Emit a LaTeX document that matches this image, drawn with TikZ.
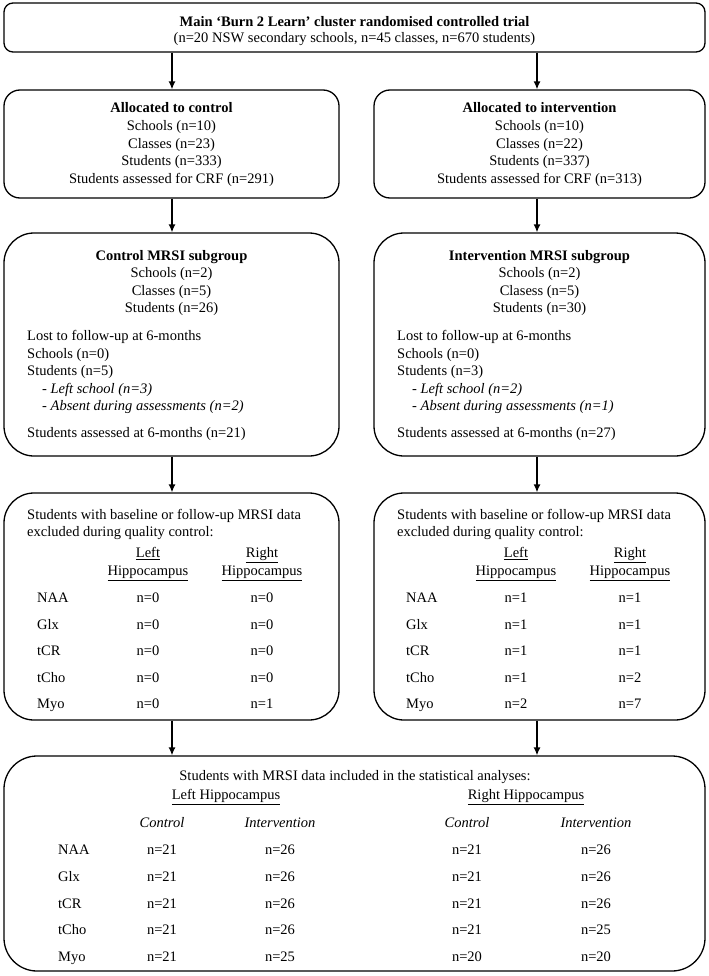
\documentclass[tikz,border=0pt]{standalone}
\usepackage{fontspec}
\setmainfont{Liberation Serif}
\usetikzlibrary{arrows.meta}
\newcommand\myfs{\fontsize{14.5bp}{17.8bp}\selectfont}
\begin{document}
\begin{tikzpicture}[x=1bp,y=-1bp,
  box/.style={draw,line width=1.3bp,inner sep=0pt,rectangle},
  txt/.style={inner sep=0pt,anchor=base,font=\myfs},
  txtb/.style={txt,font=\myfs\bfseries},
  txtl/.style={txt,anchor=base west},
  arr/.style={line width=1.3bp,-{Latex[length=8bp,width=7bp]}}]
\useasboundingbox (0,0) rectangle (709,976);

% boxes
\node[box,rounded corners=9bp,minimum width=701bp,minimum height=49bp] (top) at (354.5,27.5) {};
\node[box,rounded corners=16bp,minimum width=335bp,minimum height=108bp] (ac) at (171.5,144) {};
\node[box,rounded corners=16bp,minimum width=331bp,minimum height=108bp] (ai) at (539.5,144) {};
\node[box,rounded corners=30bp,minimum width=335bp,minimum height=223bp] (mc) at (171.5,344.5) {};
\node[box,rounded corners=30bp,minimum width=331bp,minimum height=223bp] (mi) at (539.5,344.5) {};
\node[box,rounded corners=30bp,minimum width=335bp,minimum height=227bp] (ec) at (171.5,606.5) {};
\node[box,rounded corners=30bp,minimum width=331bp,minimum height=227bp] (ei) at (539.5,606.5) {};
\node[box,rounded corners=33bp,minimum width=701bp,minimum height=215bp] (bot) at (354.5,863.5) {};

% arrows
\coordinate (xl) at (172,0);
\coordinate (xr) at (537,0);
\draw[arr] (top.south -| xl) -- (ac.north -| xl);
\draw[arr] (top.south -| xr) -- (ai.north -| xr);
\draw[arr] (ac.south -| xl) -- (mc.north -| xl);
\draw[arr] (ai.south -| xr) -- (mi.north -| xr);
\draw[arr] (mc.south -| xl) -- (ec.north -| xl);
\draw[arr] (mi.south -| xr) -- (ei.north -| xr);
\draw[arr] (ec.south -| xl) -- (bot.north -| xl);
\draw[arr] (ei.south -| xr) -- (bot.north -| xr);

% top
\node[txtb] (t1) at (354.5,26.5) {Main ‘Burn 2 Learn’ cluster randomised controlled trial};
\node[txt] (t2) at (354.5,42.5) {(n=20 NSW secondary schools, n=45 classes, n=670 students)};

% allocated
\node[txtb] (ac0) at (171.5,112.5) {Allocated to control};
\node[txt] (ac1) at (171.5,130.3) {Schools (n=10)};
\node[txt] (ac2) at (171.5,148.1) {Classes (n=23)};
\node[txt] (ac3) at (171.5,165.9) {Students (n=333)};
\node[txt] (ac4) at (171.5,183.7) {Students assessed for CRF (n=291)};
\node[txtb] (ai0) at (539.5,112.5) {Allocated to intervention};
\node[txt] (ai1) at (539.5,130.3) {Schools (n=10)};
\node[txt] (ai2) at (539.5,148.1) {Classes (n=22)};
\node[txt] (ai3) at (539.5,165.9) {Students (n=337)};
\node[txt] (ai4) at (539.5,183.7) {Students assessed for CRF (n=313)};

% MRSI subgroups
\node[txtb] (mc0) at (171.5,260.5) {Control MRSI subgroup};
\node[txt] (mc1) at (171.5,277.8) {Schools (n=2)};
\node[txt] (mc2) at (171.5,295.2) {Classes (n=5)};
\node[txt] (mc3) at (171.5,312.6) {Students (n=26)};
\node[txtl] (mc4) at (27,340.5) {Lost to follow-up at 6-months};
\node[txtl] (mc5) at (27,358) {Schools (n=0)};
\node[txtl] (mc6) at (27,375.5) {Students (n=5)};
\node[txtl] (mc7) at (42,393) {- \textit{Left school (n=3)}};
\node[txtl] (mc8) at (42,410.5) {- \textit{Absent during assessments (n=2)}};
\node[txtl] (mc9) at (27,437.5) {Students assessed at 6-months (n=21)};

\node[txtb] (mi0) at (539.5,260.5) {Intervention MRSI subgroup};
\node[txt] (mi1) at (539.5,277.8) {Schools (n=2)};
\node[txt] (mi2) at (539.5,295.2) {Clasess (n=5)};
\node[txt] (mi3) at (539.5,312.6) {Students (n=30)};
\node[txtl] (mi4) at (397,340.5) {Lost to follow-up at 6-months};
\node[txtl] (mi5) at (397,358) {Schools (n=0)};
\node[txtl] (mi6) at (397,375.5) {Students (n=3)};
\node[txtl] (mi7) at (412,393) {- \textit{Left school (n=2)}};
\node[txtl] (mi8) at (412,410.5) {- \textit{Absent during assessments (n=1)}};
\node[txtl] (mi9) at (397,437.5) {Students assessed at 6-months (n=27)};

% exclusion boxes
\node[txtl] (ec0) at (27,519.5) {Students with baseline or follow-up MRSI data};
\node[txtl] (ec1) at (27,536.5) {excluded during quality control:};
\node[txt] (ecL1) at (148,557.5) {\underline{Left}};
\node[txt] (ecL2) at (148,575.5) {\underline{Hippocampus}};
\node[txt] (ecR1) at (262,557.5) {\underline{Right}};
\node[txt] (ecR2) at (262,575.5) {\underline{Hippocampus}};
\foreach \lab/\a/\b [count=\i] in {NAA/0/0,Glx/0/0,tCR/0/0,tCho/0/0,Myo/0/1} {
  \pgfmathsetmacro\yy{602.5+26.5*(\i-1)}
  \node[txtl] (ecl\i) at (37,\yy) {\lab};
  \node[txt] (eca\i) at (148,\yy) {n=\a};
  \node[txt] (ecb\i) at (262,\yy) {n=\b};
}
\node[txtl] (ei0) at (397,519.5) {Students with baseline or follow-up MRSI data};
\node[txtl] (ei1) at (397,536.5) {excluded during quality control:};
\node[txt] (eiL1) at (516,557.5) {\underline{Left}};
\node[txt] (eiL2) at (516,575.5) {\underline{Hippocampus}};
\node[txt] (eiR1) at (630,557.5) {\underline{Right}};
\node[txt] (eiR2) at (630,575.5) {\underline{Hippocampus}};
\foreach \lab/\a/\b [count=\i] in {NAA/1/1,Glx/1/1,tCR/1/1,tCho/1/2,Myo/2/7} {
  \pgfmathsetmacro\yy{602.5+26.5*(\i-1)}
  \node[txtl] (eil\i) at (406,\yy) {\lab};
  \node[txt] (eia\i) at (516,\yy) {n=\a};
  \node[txt] (eib\i) at (630,\yy) {n=\b};
}

% bottom box
\node[txt] (b0) at (355,780.5) {Students with MRSI data included in the statistical analyses:};
\node[txt] (bL) at (226,799.5) {\underline{Left Hippocampus}};
\node[txt] (bR) at (526,799.5) {\underline{Right Hippocampus}};
\node[txt] (bc1) at (162,827.5) {\textit{Control}};
\node[txt] (bi1) at (280,827.5) {\textit{Intervention}};
\node[txt] (bc2) at (467,827.5) {\textit{Control}};
\node[txt] (bi2) at (596,827.5) {\textit{Intervention}};
\foreach \lab/\a/\b/\c/\d [count=\i] in {NAA/21/26/21/26,Glx/21/26/21/26,tCR/21/26/21/26,tCho/21/26/21/25,Myo/21/25/20/20} {
  \pgfmathsetmacro\yy{854.5+26.75*(\i-1)}
  \node[txtl] (bl\i) at (58,\yy) {\lab};
  \node[txt] (ba\i) at (162,\yy) {n=\a};
  \node[txt] (bb\i) at (280,\yy) {n=\b};
  \node[txt] (bcc\i) at (467,\yy) {n=\c};
  \node[txt] (bd\i) at (596,\yy) {n=\d};
}
\end{tikzpicture}
\end{document}
